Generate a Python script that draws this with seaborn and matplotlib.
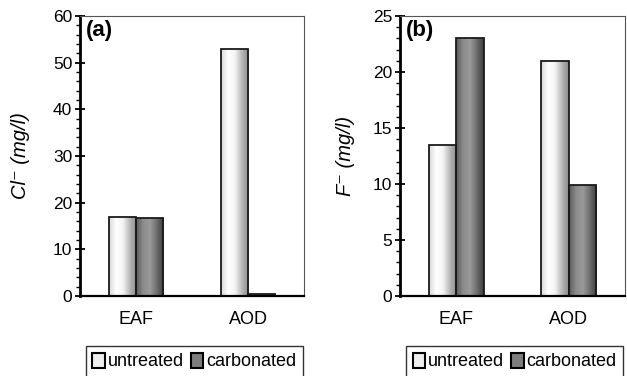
import numpy as np
import pandas as pd
import matplotlib
matplotlib.use('Agg')
import matplotlib.pyplot as plt
import seaborn as sns
from matplotlib.colors import LinearSegmentedColormap
from matplotlib.patches import Patch

slags = ['EAF', 'AOD']
treatments = ['untreated', 'carbonated']
cl_untreated = [17.0, 53.0]
cl_carbonated = [16.7, 0.5]
f_untreated = [13.5, 21.0]
f_carbonated = [23.0, 9.9]

sns.set_theme(style='white')
plt.rcParams['font.family'] = ['Liberation Sans', 'DejaVu Sans']
plt.rcParams['text.color'] = 'black'
plt.rcParams['axes.labelcolor'] = 'black'
plt.rcParams['xtick.color'] = 'black'
plt.rcParams['ytick.color'] = 'black'

# cylinder-like shading like the old Excel bars
cmaps = {
    'untreated': LinearSegmentedColormap.from_list('u', ['#d8d8d8', '#ffffff', '#f4f4f4', '#b8b8b8', '#8a8a8a']),
    'carbonated': LinearSegmentedColormap.from_list('c', ['#5a5a5a', '#8c8c8c', '#9a9a9a', '#6e6e6e', '#3c3c3c']),
}
flat = {'untreated': '#eeeeee', 'carbonated': '#7d7d7d'}


def make_df(unt, carb):
    rows = []
    for s, u, c in zip(slags, unt, carb):
        rows.append({'slag': s, 'treatment': 'untreated', 'value': u})
        rows.append({'slag': s, 'treatment': 'carbonated', 'value': c})
    return pd.DataFrame(rows)


def shade_bars(ax):
    xl, yl = ax.get_xlim(), ax.get_ylim()
    grad = np.linspace(0, 1, 64).reshape(1, -1)
    for cont, t in zip(ax.containers, treatments):
        for bar in cont:
            x, y = bar.get_x(), bar.get_y()
            w, h = bar.get_width(), bar.get_height()
            im = ax.imshow(grad, cmap=cmaps[t], aspect='auto',
                           extent=[x, x + w, y, y + h], zorder=1.5)
            im.set_clip_path(bar)
            bar.set_facecolor('none')
            bar.set_edgecolor('#1a1a1a')
            bar.set_linewidth(1.3)
            bar.set_zorder(2)
    ax.set_xlim(xl)
    ax.set_ylim(yl)


def panel(ax, unt, carb, ymax, major, minor, ylabel, tag, label_x):
    df = make_df(unt, carb)
    sns.barplot(data=df, x='slag', y='value', hue='treatment', order=slags,
                hue_order=treatments, palette=flat, width=0.49, ax=ax,
                legend=False, errorbar=None)
    ax.set_xlim(-0.5, 1.5)
    ax.set_ylim(0, ymax)
    shade_bars(ax)
    ax.set_yticks(np.arange(0, ymax + 0.1, major))
    ax.set_yticks(np.arange(0, ymax + 0.1, minor), minor=True)
    ax.set_xticks([0, 1])
    ax.set_xticklabels(slags)
    ax.set_xticks([-0.5, 0.5, 1.5], minor=True)
    ax.tick_params(axis='x', which='major', length=0, labelsize=13, pad=11)
    ax.tick_params(axis='x', which='minor', length=8, width=1.2, direction='inout', color='black')
    ax.tick_params(axis='y', which='major', length=7, width=1.3, direction='inout',
                   color='black', labelsize=12.5, left=True, pad=2)
    ax.tick_params(axis='y', which='minor', length=3, width=1, direction='out',
                   color='black', left=True)
    ax.set_xlabel('')
    ax.set_ylabel(ylabel, fontsize=14.5, style='italic')
    ax.yaxis.set_label_coords(label_x, 0.5)
    for side in ['top', 'right']:
        ax.spines[side].set_color('#555555')
        ax.spines[side].set_linewidth(0.8)
    ax.spines['left'].set_color('black')
    ax.spines['left'].set_linewidth(2)
    ax.spines['bottom'].set_color('black')
    ax.spines['bottom'].set_linewidth(1.6)
    ax.text(0.025, 0.985, tag, transform=ax.transAxes, fontsize=16, fontweight='bold',
            va='top', ha='left')
    handles = [Patch(facecolor=flat[t], edgecolor='black', linewidth=1.5) for t in treatments]
    leg = ax.legend(handles, treatments, loc='upper center', bbox_to_anchor=(0.51, -0.18),
                    ncol=2, frameon=True, fancybox=False, fontsize=13,
                    handlelength=0.7, handleheight=0.9, handletextpad=0.15,
                    columnspacing=0.4, borderpad=0.35, borderaxespad=0)
    leg.get_frame().set_edgecolor('black')
    leg.get_frame().set_linewidth(1)


fig = plt.figure(figsize=(6.27, 3.76), dpi=100)
ax1 = fig.add_axes([80 / 627, 80 / 376, 224 / 627, 280 / 376])
ax2 = fig.add_axes([400 / 627, 80 / 376, 225 / 627, 280 / 376])

panel(ax1, cl_untreated, cl_carbonated, 60, 10, 2, 'Cl\u207b (mg/l)', '(a)', -0.225)
panel(ax2, f_untreated, f_carbonated, 25, 5, 1, 'F\u207b (mg/l)', '(b)', -0.2)

fig.savefig('out.png', dpi=100)
